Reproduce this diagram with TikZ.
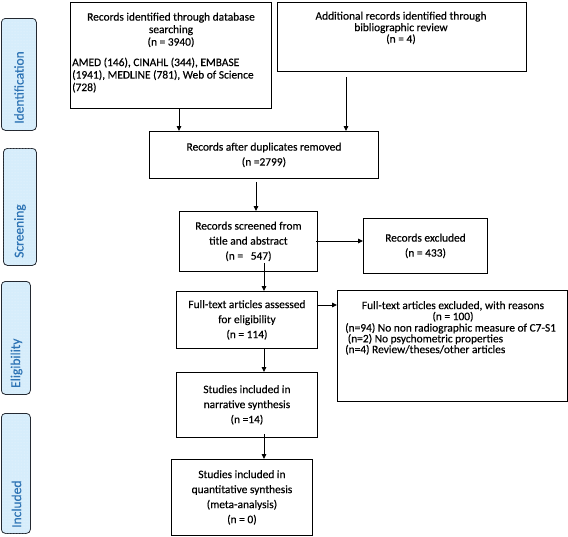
\documentclass[tikz,border=0pt]{standalone}
\usepackage{fontspec}
\setmainfont{Carlito}[FakeBold=0.35]
\usetikzlibrary{arrows.meta,patterns,calc}
\definecolor{sidefill}{RGB}{214,237,251}
\definecolor{sidedot}{RGB}{238,246,252}
\definecolor{sideborder}{RGB}{35,40,48}
\definecolor{sidetext}{RGB}{46,116,181}
\begin{document}
\begin{tikzpicture}[x=1pt,y=-1pt,
  box/.style={draw=black,line width=0.9pt,inner sep=0pt,anchor=north west},
  ctext/.style={align=center,font=\fontsize{11.4}{15}\selectfont},
  txt/.style={inner sep=0pt,font=\fontsize{11.4}{12.5}\selectfont},
  side/.style={draw=sideborder,line width=0.8pt,rounded corners=4pt,fill=sidefill,
    postaction={pattern=dots,pattern color=sidedot},inner sep=0pt,anchor=north west},
  sidelabel/.style={inner sep=0pt,rotate=90,anchor=west,text=sidetext,font=\fontsize{13.5}{15}\selectfont},
  arr/.style={line width=0.9pt,-{Triangle[length=5pt,width=4.5pt]}}]
\useasboundingbox (0,0) rectangle (568,536);

% side labels
\node[side,minimum width=35pt,minimum height=112pt] (sid) at (1,18) {};
\node[sidelabel] (sidt) at (19,124) {Identification};
\node[side,minimum width=33pt,minimum height=117pt] (scr) at (3,148) {};
\node[sidelabel] (scrt) at (20,258) {Screening};
\node[side,minimum width=29pt,minimum height=113pt] (eli) at (1,281) {};
\node[sidelabel] (elit) at (16.5,388) {Eligibility};
\node[side,minimum width=29pt,minimum height=120pt] (inc) at (1,413) {};
\node[sidelabel] (inct) at (16.5,528) {Included};

% boxes
\node[box,minimum width=201pt,minimum height=106pt] (b1) at (70,1.5) {};
\node[txt,anchor=north,align=center] (b1a) at (171,12.5) {Records identified through database\\searching\\(n = 3940)};
\node[txt,anchor=north west,align=left] (b1b) at (72,57.5) {AMED (146), CINAHL (344), EMBASE\\(1941), MEDLINE (781), Web of Science\\(728)};

\node[box,minimum width=249pt,minimum height=69pt] (b2) at (277,2) {};
\node[txt,anchor=north,align=center,font=\fontsize{11.4}{11.5}\selectfont] (b2a) at (401,11.5) {Additional records identified through\\bibliographic review\\(n = 4)};

\node[box,ctext,minimum width=229pt,minimum height=47pt] (b3) at (149,131) {Records after duplicates removed\\(n =2799)};
\node[box,ctext,minimum width=138pt,minimum height=60pt] (b4) at (179,211) {Records screened from\\title and abstract\\(n = \ \ 547)};
\node[box,ctext,minimum width=124pt,minimum height=55pt] (b5) at (363,218) {Records excluded\\(n = 433)};
\node[box,ctext,minimum width=141pt,minimum height=57pt] (b6) at (176,291) {Full-text articles assessed\\for eligibility\\(n = 114)};
\node[box,minimum width=230pt,minimum height=111pt] (b7) at (337,290) {};
\node[txt,anchor=north,align=center,font=\fontsize{11.4}{11}\selectfont] (b7a) at (453,301) {Full-text articles excluded, with reasons\\(n = 100)};
\node[txt,anchor=north west,align=left,font=\fontsize{11.4}{10.8}\selectfont] (b7b) at (345,323) {(n=94) No non radiographic measure of C7-S1\\\ (n=2) No psychometric properties\\(n=4) Review/theses/other articles};
\node[box,ctext,minimum width=141pt,minimum height=65pt] (b8) at (176,372) {Studies included in\\narrative synthesis\\(n =14)};
\node[box,ctext,minimum width=141pt,minimum height=76pt] (b9) at (171,459) {Studies included in\\quantitative synthesis\\(meta-analysis)\\(n = 0)};

% arrow x/y guides
\coordinate (xa) at (179,0);
\coordinate (xb) at (346,0);
\coordinate (xc) at (256,0);
\coordinate (xd) at (264,0);
\coordinate (ya) at (0,241);
\coordinate (yb) at (0,305);

\draw[arr] (b1.south -| xa) -- (b3.north -| xa);
\draw[arr] ($(b2.south -| xb)+(0,5)$) -- (b3.north -| xb);
\draw[arr] ($(b3.south -| xc)+(0,3)$) -- (b4.north -| xc);
\draw[arr] ($(b4.east |- ya)+(-2,0)$) -- (b5.west |- ya);
\draw[arr] ($(b4.south -| xd)+(0,-9)$) -- (b6.north -| xd);
\draw[arr] (b6.east |- yb) -- (b7.west |- yb);
\draw[arr] (b6.south -| xd) -- (b8.north -| xd);
\draw[arr] ($(b8.south -| xd)+(0,-4)$) -- (b9.north -| xd);
\end{tikzpicture}
\end{document}
